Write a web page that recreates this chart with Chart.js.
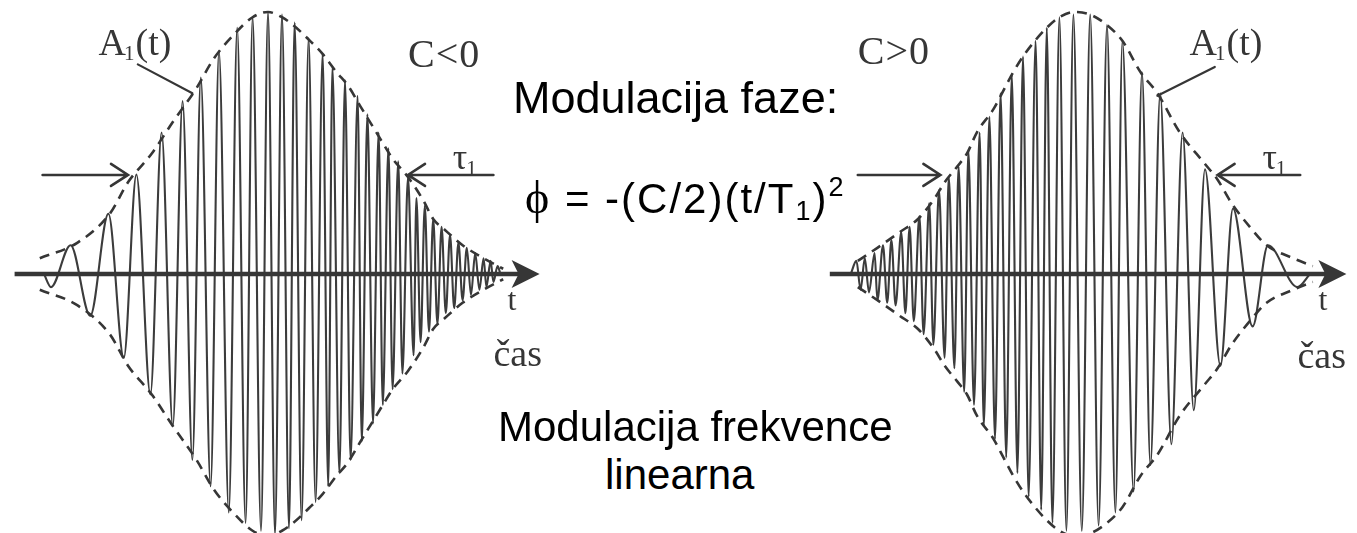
<!DOCTYPE html>
<html>
<head>
<meta charset="utf-8">
<title>Čirp impulz</title>
<script src="https://cdn.jsdelivr.net/npm/chart.js@4.4.1/dist/chart.umd.min.js"></script>
<style>
  html, body { margin: 0; padding: 0; background: #fff; }
  #stage { position: relative; width: 1357px; height: 533px; overflow: hidden; }
  #stage canvas { position: absolute; top: 0; }
  #pulseLeft { left: 0; }
  #pulseRight { left: 811px; }
  .note {
    position: absolute;
    font-family: "Liberation Sans", Arial, sans-serif;
    color: #000;
    line-height: 1;
    white-space: nowrap;
  }
  #phaseTitle { left: 513px; top: 75px; font-size: 45px; }
  #phaseFormula { left: 525px; top: 175px; font-size: 42px; letter-spacing: 2px; }
  #phaseFormula .phi { font-family: "Liberation Serif", "DejaVu Serif", serif; font-size: 46px; }
  #phaseFormula sub, #phaseFormula sup { font-size: 27px; line-height: 0; }
  #phaseFormula sub { vertical-align: -7px; }
  #phaseFormula sup { vertical-align: 17px; }
  #freqTitle { left: 498px; top: 406px; font-size: 42px; }
  #freqLinear { left: 605px; top: 454px; font-size: 42px; }
</style>
</head>
<body>
<div id="stage">
  <canvas id="pulseLeft" width="546" height="533"></canvas>
  <canvas id="pulseRight" width="546" height="533"></canvas>
  <div class="note" id="phaseTitle">Modulacija faze:</div>
  <div class="note" id="phaseFormula"><span class="phi">ϕ</span> = -(C/2)(t/T<sub>1</sub>)<sup>2</sup></div>
  <div class="note" id="freqTitle">Modulacija frekvence</div>
  <div class="note" id="freqLinear">linearna</div>
</div>
<script>
// Time is t/T0 (the 1/e half width), field is A/A0.
// Extrema of the chirped carrier, alternating crest/trough.
const leftWaveT = [-1.60, -1.55, -1.41, -1.27, -1.14, -1.03, -0.94, -0.84, -0.76, -0.68,
  -0.61, -0.54, -0.48, -0.41, -0.35, -0.28, -0.22, -0.16, -0.11, -0.05,
  0.00, 0.05, 0.10, 0.15, 0.19, 0.24, 0.29, 0.34, 0.39, 0.43,
  0.46, 0.51, 0.55, 0.59, 0.64, 0.67, 0.71, 0.75, 0.79, 0.82,
  0.86, 0.89, 0.93, 0.96, 1.00, 1.04, 1.06, 1.09, 1.12, 1.15,
  1.18, 1.21, 1.24, 1.27, 1.30, 1.33, 1.36, 1.39, 1.42, 1.45,
  1.48, 1.51, 1.54, 1.56, 1.59, 1.61, 1.64, 1.66];
const leftWaveA = [0, -0.05, 0.11, -0.16, 0.23, -0.32, 0.38, -0.46, 0.54, -0.58,
  0.66, -0.71, 0.75, -0.81, 0.85, -0.91, 0.94, -0.95, 0.98, -0.98,
  1.00, -0.99, 0.99, -0.97, 0.96, -0.94, 0.90, -0.87, 0.84, -0.81,
  0.79, -0.76, 0.74, -0.71, 0.68, -0.64, 0.61, -0.57, 0.54, -0.50,
  0.48, -0.44, 0.43, -0.38, 0.37, -0.31, 0.29, -0.26, 0.26, -0.22,
  0.21, -0.19, 0.18, -0.15, 0.15, -0.13, 0.12, -0.10, 0.10, -0.08,
  0.08, -0.06, 0.06, -0.05, 0.05, -0.03, 0.03, 0];

const rightWaveT = [-1.63, -1.59, -1.56, -1.53, -1.50, -1.46, -1.44, -1.40, -1.37, -1.34,
  -1.31, -1.27, -1.24, -1.21, -1.18, -1.14, -1.11, -1.07, -1.04, -1.00,
  -0.96, -0.93, -0.89, -0.86, -0.82, -0.79, -0.75, -0.71, -0.68, -0.64,
  -0.60, -0.56, -0.52, -0.48, -0.44, -0.40, -0.36, -0.31, -0.27, -0.23,
  -0.19, -0.14, -0.09, -0.04, 0.02, 0.08, 0.14, 0.20, 0.26, 0.31,
  0.39, 0.45, 0.51, 0.58, 0.66, 0.74, 0.82, 0.90, 1.01, 1.10,
  1.24, 1.35, 1.56, 1.65];
const rightWaveA = [0, 0.05, -0.06, 0.06, -0.07, 0.08, -0.10, 0.11, -0.11, 0.13,
  -0.12, 0.16, -0.15, 0.18, -0.18, 0.22, -0.23, 0.27, -0.27, 0.32,
  -0.32, 0.37, -0.36, 0.41, -0.45, 0.47, -0.50, 0.54, -0.58, 0.60,
  -0.63, 0.69, -0.70, 0.76, -0.76, 0.83, -0.85, 0.89, -0.90, 0.94,
  -0.95, 0.98, -0.98, 0.99, -0.98, 0.99, -0.96, 0.95, -0.91, 0.89,
  -0.83, 0.77, -0.73, 0.69, -0.65, 0.54, -0.52, 0.40, -0.35, 0.25,
  -0.20, 0.11, -0.05, 0];

// Envelope A1(t), drawn dashed as +A and -A
const leftEnvT = [-1.63, -1.36, -1.13, -1.00, -0.83, -0.68, -0.51, -0.39, -0.25, -0.11,
  0, 0.10, 0.18, 0.30, 0.39, 0.49, 0.57, 0.66, 0.74, 0.82,
  0.89, 1.00, 1.11, 1.18, 1.26, 1.39, 1.54, 1.68];
const leftEnvA = [0.06, 0.12, 0.23, 0.35, 0.46, 0.58, 0.71, 0.82, 0.91, 0.98,
  1.00, 0.98, 0.95, 0.89, 0.84, 0.77, 0.72, 0.64, 0.57, 0.50,
  0.44, 0.37, 0.28, 0.21, 0.17, 0.11, 0.06, 0.02];
const rightEnvT = [-1.58, -1.44, -1.28, -1.15, -1.03, -0.96, -0.87, -0.80, -0.73, -0.61,
  -0.54, -0.47, -0.40, -0.33, -0.23, -0.14, -0.03, 0.08, 0.20, 0.31,
  0.44, 0.56, 0.72, 0.90, 0.99, 1.09, 1.22, 1.34, 1.53, 1.67];
const rightEnvA = [0.05, 0.10, 0.16, 0.21, 0.29, 0.35, 0.41, 0.46, 0.54, 0.63,
  0.70, 0.77, 0.83, 0.88, 0.94, 0.98, 1.00, 0.99, 0.95, 0.89,
  0.77, 0.69, 0.54, 0.42, 0.36, 0.27, 0.18, 0.11, 0.06, 0.03];

// time axis ends and the tau_1 arrows (tail, tip) at the 1/e level
const leftAxisT = [-1.81, 1.94];
const rightAxisT = [-1.78, 1.91];
const tauLevel = 0.378;
const leftTauT = [[-1.61, -1.00], [1.61, 1.00]];
const rightTauT = [[-1.58, -0.99], [1.58, 0.99]];
const chirpLabels = ['C<0', 'C>0'];

const INK = '#363636';

function pts(ts, as, sign) {
    return ts.map((t, i) => ({ x: t, y: (sign || 1) * as[i] }));
}

// labels, arrows and pointer line placed in (t, A) units
const pulseNotes = {
    id: 'pulseNotes',
    afterDatasetsDraw(chart, args, opts) {
        const ctx = chart.ctx;
        const px = t => chart.scales.x.getPixelForValue(t);
        const py = a => chart.scales.y.getPixelForValue(a);
        ctx.save();
        ctx.strokeStyle = INK;
        ctx.fillStyle = INK;
        ctx.lineCap = 'round';

        // arrow head of the time axis
        const ax = px(opts.axis[1]), ay = py(0);
        ctx.beginPath();
        ctx.moveTo(ax, ay);
        ctx.lineTo(ax - 28, ay - 14);
        ctx.lineTo(ax - 21, ay);
        ctx.lineTo(ax - 28, ay + 14);
        ctx.closePath();
        ctx.fill();

        // tau_1 arrows pointing at the envelope
        ctx.lineWidth = 2.6;
        opts.tau.forEach(([tail, tip]) => {
            const x0 = px(tail), x1 = px(tip), y = py(tauLevel);
            const dir = x1 > x0 ? 1 : -1;
            ctx.beginPath();
            ctx.moveTo(x0, y);
            ctx.lineTo(x1, y);
            ctx.moveTo(x1 - dir * 17, y - 11);
            ctx.lineTo(x1, y);
            ctx.lineTo(x1 - dir * 17, y + 11);
            ctx.stroke();
        });

        // pointer from the A1(t) label to the envelope
        ctx.lineWidth = 2.2;
        ctx.beginPath();
        ctx.moveTo(px(opts.pointer[0][0]), py(opts.pointer[0][1]));
        ctx.lineTo(px(opts.pointer[1][0]), py(opts.pointer[1][1]));
        ctx.stroke();

        const serif = '"Liberation Serif", "DejaVu Serif", serif';
        ctx.textBaseline = 'alphabetic';

        // A1(t)
        let x = px(opts.ampLabel[0]), y = py(opts.ampLabel[1]);
        ctx.font = '38px ' + serif;
        ctx.fillText('A', x, y);
        x += ctx.measureText('A').width - 2;
        ctx.font = '21px ' + serif;
        ctx.fillText('1', x, y + 5);
        x += ctx.measureText('1').width + 1;
        ctx.font = '38px ' + serif;
        ctx.fillText('(t)', x, y);

        // C<0 / C>0
        ctx.font = '40px ' + serif;
        x = px(opts.chirp[0]);
        for (const ch of opts.chirpText) {
            ctx.fillText(ch, x, py(opts.chirp[1]));
            x += ctx.measureText(ch).width + 1;
        }

        // tau_1
        x = px(opts.tauLabel[0]);
        y = py(opts.tauLabel[1]);
        ctx.font = '36px ' + serif;
        ctx.fillText('τ', x, y);
        x += ctx.measureText('τ').width - 1;
        ctx.font = '21px ' + serif;
        ctx.fillText('1', x, y + 6);

        // axis name
        ctx.font = '32px ' + serif;
        ctx.fillText('t', px(opts.tLabel[0]), py(opts.tLabel[1]));
        ctx.font = '38px ' + serif;
        ctx.fillText('čas', px(opts.casLabel[0]), py(opts.casLabel[1]));
        ctx.restore();
    }
};

function drawPulse(canvasId, waveT, waveA, envT, envA, notes) {
    const line = { pointRadius: 0, fill: false, cubicInterpolationMode: 'monotone' };
    new Chart(document.getElementById(canvasId), {
        type: 'line',
        data: {
            datasets: [
                Object.assign({ data: [{ x: notes.axis[0], y: 0 }, { x: notes.axis[1] - 0.1, y: 0 }],
                    borderColor: INK, borderWidth: 4.5, order: 0 }, line),
                Object.assign({ data: pts(envT, envA, 1), borderColor: INK, borderWidth: 2.6,
                    borderDash: [10, 7], order: 1 }, line),
                Object.assign({ data: pts(envT, envA, -1), borderColor: INK, borderWidth: 2.6,
                    borderDash: [10, 7], order: 1 }, line),
                Object.assign({ data: pts(waveT, waveA, 1), borderColor: '#3c3c3c',
                    borderWidth: 2.1, order: 2 }, line)
            ]
        },
        options: {
            responsive: false,
            animation: false,
            events: [],
            layout: { padding: 0 },
            scales: {
                x: { type: 'linear', display: false, min: -268 / 140, max: 278 / 140 },
                y: { type: 'linear', display: false, min: -259 / 262, max: 274 / 262 }
            },
            plugins: {
                legend: { display: false },
                tooltip: { enabled: false },
                pulseNotes: notes
            }
        },
        plugins: [pulseNotes]
    });
}

drawPulse('pulseLeft', leftWaveT, leftWaveA, leftEnvT, leftEnvA, {
    axis: leftAxisT,
    tau: leftTauT,
    pointer: [[-0.93, 0.80], [-0.54, 0.69]],
    ampLabel: [-1.21, 0.835],
    chirp: [1.0, 0.79],
    chirpText: chirpLabels[0],
    tauLabel: [1.32, 0.40],
    tLabel: [1.71, -0.137],
    casLabel: [1.61, -0.35]
});

drawPulse('pulseRight', rightWaveT, rightWaveA, rightEnvT, rightEnvA, {
    axis: rightAxisT,
    tau: rightTauT,
    pointer: [[0.56, 0.68], [0.97, 0.79]],
    ampLabel: [0.79, 0.835],
    chirp: [-1.58, 0.80],
    chirpText: chirpLabels[1],
    tauLabel: [1.31, 0.40],
    tLabel: [1.71, -0.137],
    casLabel: [1.56, -0.36]
});
</script>
</body>
</html>
